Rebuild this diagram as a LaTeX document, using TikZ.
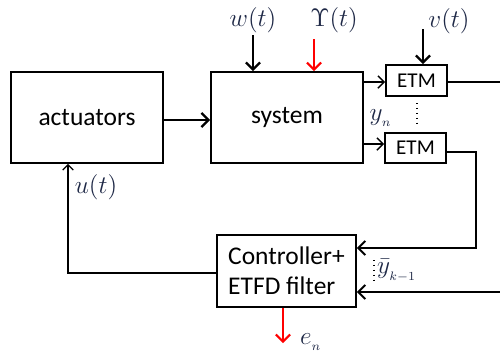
\documentclass[tikz,border=0pt]{standalone}
\usepackage{fontspec}
\setmainfont{Carlito}
\usetikzlibrary{arrows.meta}
\definecolor{lbl}{RGB}{30,40,70}
\begin{document}
\begin{tikzpicture}[x=0.02cm,y=-0.02cm,
  blk/.style={draw,line width=1.1pt,inner sep=0pt,font=\fontsize{14.5}{17}\selectfont},
  etmbox/.style={blk,minimum width=61*0.02cm,minimum height=31*0.02cm,font=\fontsize{12}{14}\selectfont},
  con/.style={line width=0.8pt,-{Straight Barb[length=3.5pt,width=7pt]}},
  thk/.style={line width=1.3pt,-{Straight Barb[length=4pt,width=8pt]}},
  red/.style={draw=red,line width=1.2pt,-{Straight Barb[length=4pt,width=8pt]}},
  ln/.style={line width=1.1pt},
  mlab/.style={text=lbl,font=\fontsize{13.5}{15}\selectfont}]
\useasboundingbox (0,0) rectangle (500,353);
% blocks
\node[blk,minimum width=152*0.02cm,minimum height=91*0.02cm] (act) at (87,117.5) {actuators};
\node[blk,minimum width=152*0.02cm,minimum height=91*0.02cm] (sys) at (287,117.5) {system};
\coordinate (a1) at (0,120);
\draw[thk] (act.east |- a1) -- (sys.west |- a1);
% ETMs
\node[etmbox] (etm1) at (416.5,80.5) {ETM};
\node[etmbox,minimum height=30*0.02cm] (etm2) at (415.5,148) {ETM};
\coordinate (s1) at (0,82);
\coordinate (s2) at (0,144);
\draw[con] (sys.east |- s1) -- (etm1.west |- s1);
\draw[con] (sys.east |- s2) -- (etm2.west |- s2);
\draw[dotted,line width=0.8pt] (417,103) -- (417,127);
\node[mlab] (yn) at (381,118) {$y_{_n}$};
% disturbances
\coordinate (wS) at (253,35);
\draw[thk] (wS) -- (sys.north -| wS);
\node[mlab] (wl) at (253,20) {$w(t)$};
\coordinate (uS) at (314,39);
\draw[red] (uS) -- (sys.north -| uS);
\node[mlab] (ups) at (334,20) {$\Upsilon(t)$};
\coordinate (vS) at (423,29);
\draw[thk] (vS) -- (etm1.north -| vS);
\node[mlab] (vl) at (449,21) {$v(t)$};
% outputs
\coordinate (o1) at (500,82);
\draw[ln] (etm1.east |- o1) -- (o1);
% controller
\node[blk,minimum width=139*0.02cm,minimum height=72*0.02cm,align=left] (ctrl) at (286.5,271) {Controller+\\ETFD filter};
\coordinate (c1) at (476,152);
\coordinate (c2) at (476,248);
\draw[ln,-{Straight Barb[length=4pt,width=8pt]}] (etm2.east |- c1) -- (c1) -- (c2) -- (c2 -| ctrl.east);
\coordinate (r2) at (500,292);
\draw[ln,-{Straight Barb[length=4pt,width=8pt]}] (r2) -- (r2 -| ctrl.east);
\draw[dotted,line width=0.8pt] (374,260) -- (374,283);
\node[mlab] (yb) at (397,271) {$\bar{y}_{_{k-1}}$};
% u(t)
\coordinate (u1) at (68,273);
\draw[line width=0.7pt,-{Straight Barb[length=3pt,width=6pt]}] (ctrl.west |- u1) -- (u1) -- (act.south -| u1);
\node[mlab] (ul) at (96,187) {$u(t)$};
% e_n
\coordinate (eE) at (283,343);
\draw[red] (ctrl.south -| eE) -- (eE);
\node[mlab] (el) at (311,342) {$e_{_n}$};
\end{tikzpicture}
\end{document}
